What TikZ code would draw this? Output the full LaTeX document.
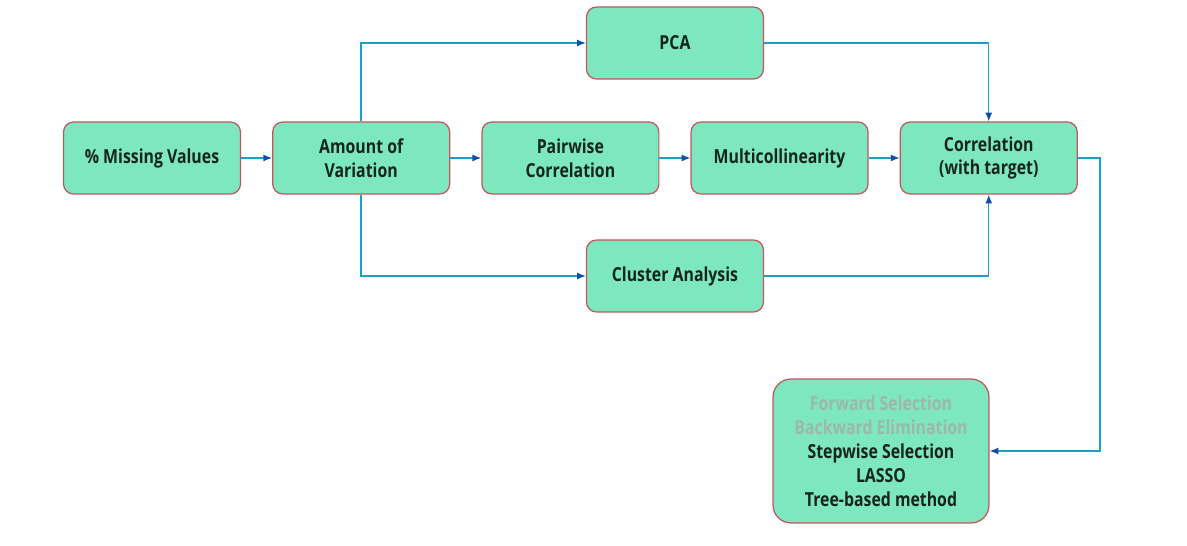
\documentclass[tikz,border=0pt]{standalone}
\usepackage{fontspec}
\setmainfont{Open Sans}[FakeStretch=0.82]
\usetikzlibrary{arrows.meta, positioning, calc}

\definecolor{boxfill}{HTML}{7DE8BF}
\definecolor{boxline}{HTML}{C25560}
\definecolor{flow}{HTML}{1E9FC4}
\definecolor{tipblue}{HTML}{0B4FA8}
\definecolor{txt}{HTML}{14261C}
\definecolor{faded}{HTML}{9DB8AA}

\begin{document}
\begin{tikzpicture}[
        x=0.02cm, y=-0.02cm,
        node distance=0.62cm,
        stage/.style={rectangle, rounded corners=0.2cm, draw=boxline, line width=0.7pt,
            fill=boxfill, minimum width=3.54cm, minimum height=1.44cm,
            align=center, text=txt, font=\bfseries\fontsize{11}{13.6}\selectfont},
        arrow/.style={draw=flow, line width=0.8pt,
            -{Latex[length=5pt, width=4pt, color=tipblue]}}
    ]

    \useasboundingbox (0,0) rectangle (1187,546);

    \node[stage] (missing) at (152,158) {\% Missing Values};
    \node[stage] (variation) [right=of missing] {Amount of\\Variation};
    \node[stage] (pairwise) [right=of variation] {Pairwise\\Correlation};
    \node[stage] (multi) [right=of pairwise] {Multicollinearity};
    \node[stage] (target) [right=of multi] {Correlation\\(with target)};

    \node[stage] (pca) at ($(pairwise)!0.5!(multi)+(0,-115)$) {PCA};
    \node[stage] (cluster) at ($(pairwise)!0.5!(multi)+(0,118)$) {Cluster Analysis};

    \node[stage, rounded corners=0.36cm, minimum width=4.32cm, minimum height=2.88cm]
        (methods) at (881,451)
        {\textcolor{faded}{Forward Selection}\\
         \textcolor{faded}{Backward Elimination}\\
         Stepwise Selection\\LASSO\\Tree-based method};

    \draw[arrow] (missing) -- (variation);
    \draw[arrow] (variation) -- (pairwise);
    \draw[arrow] (pairwise) -- (multi);
    \draw[arrow] (multi) -- (target);

    \draw[arrow] (variation.north) |- (pca.west);
    \draw[arrow] (pca.east) -| (target.north);
    \draw[arrow] (variation.south) |- (cluster.west);
    \draw[arrow] (cluster.east) -| (target.south);

    \coordinate (turn) at (1100,158);
    \draw[arrow] (target.east) -- (turn) |- (methods.east);
    \end{tikzpicture}
\end{document}
